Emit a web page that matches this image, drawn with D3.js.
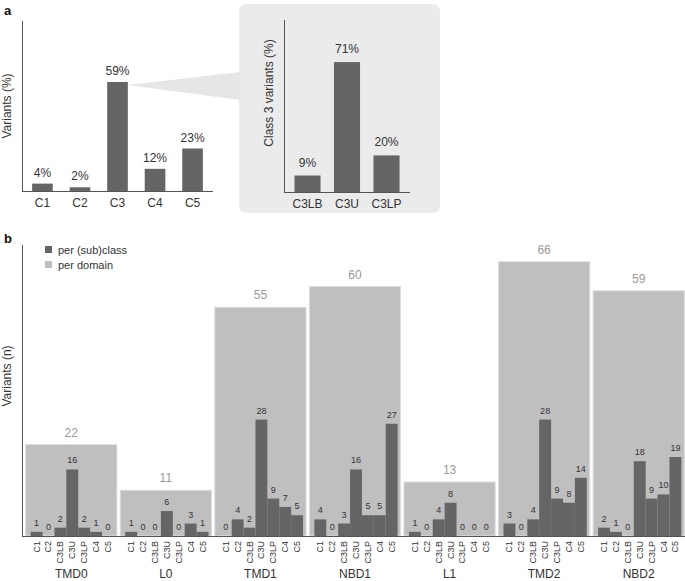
<!DOCTYPE html>
<html><head><meta charset="utf-8">
<script src="https://cdn.jsdelivr.net/npm/d3@7"></script>
<style>body{margin:0;background:#fff}svg{display:block;font-family:"Liberation Sans",Arial,sans-serif}</style>
</head><body>
<svg id="c" width="685" height="581"></svg>
<script>
// Panel a data
const classCats = ["C1","C2","C3","C4","C5"];
const classPct = [4,2,59,12,23];
// Inset data
const sub3Cats = ["C3LB","C3U","C3LP"];
const sub3Pct = [9,71,20];
// Panel b data
const domains = ["TMD0","L0","TMD1","NBD1","L1","TMD2","NBD2"];
const domainTotals = [22,11,55,60,13,66,59];
const subCats = ["C1","C2","C3LB","C3U","C3LP","C4","C5"];
const TMD0 = [1,0,2,16,2,1,0];
const L0 = [1,0,0,6,0,3,1];
const TMD1 = [0,4,2,28,9,7,5];
const NBD1 = [4,0,3,16,5,5,27];
const L1 = [1,0,4,8,0,0,0];
const TMD2 = [3,0,4,28,9,8,14];
const NBD2 = [2,1,0,18,9,10,19];
const subValues = [TMD0,L0,TMD1,NBD1,L1,TMD2,NBD2];
const legendLabels = ["per (sub)class","per domain"];

const DARK="#656565", LIGHT="#bfbfbf", TXT="#333", AX="#555";
const svg = d3.select("#c");

// ---------- Panel a ----------
svg.append("text").attr("x",4).attr("y",15).attr("font-weight","bold").attr("font-size",13).attr("fill","#111").text("a");

const xa = d3.scaleBand().domain(classCats).range([22,213]).paddingInner(0.45).paddingOuter(0.27);
const ya = d3.scaleLinear().domain([0,92]).range([191,21]);

// inset box and wedge
svg.append("rect").attr("x",239).attr("y",4).attr("width",201).attr("height",209).attr("rx",7).attr("fill","#ebebeb");
const c3x = xa("C3")+xa.bandwidth();
svg.append("path").attr("d",`M${c3x},${ya(59)+3} L240,72 L240,100 Z`).attr("fill","#e6e6e6");

const ga = svg.append("g");
ga.selectAll("rect.b").data(classCats).join("rect")
  .attr("x",d=>xa(d)).attr("width",xa.bandwidth())
  .attr("y",(d,i)=>ya(classPct[i])).attr("height",(d,i)=>ya(0)-ya(classPct[i]))
  .attr("fill",DARK);
ga.selectAll("text.v").data(classCats).join("text")
  .attr("x",d=>xa(d)+xa.bandwidth()/2).attr("y",(d,i)=>ya(classPct[i])-7)
  .attr("text-anchor","middle").attr("font-size",12).attr("fill",TXT)
  .text((d,i)=>classPct[i]+"%");
const axA = ga.append("g").attr("transform",`translate(0,${ya(0)})`).call(d3.axisBottom(xa).tickSize(0).tickPadding(7));
axA.select(".domain").attr("stroke",AX).attr("d","M22,0.5H213");
axA.selectAll("text").attr("font-size",12).attr("fill",TXT).attr("font-family","Liberation Sans, Arial, sans-serif");
ga.append("line").attr("x1",22.5).attr("x2",22.5).attr("y1",21).attr("y2",ya(0)).attr("stroke",AX);
ga.append("text").attr("transform","translate(11,106) rotate(-90)").attr("text-anchor","middle").attr("font-size",12).attr("fill",TXT).text("Variants (%)");

// inset chart
const xi = d3.scaleBand().domain(sub3Cats).range([284,410]).paddingInner(0.34).paddingOuter(0.265);
const yi = d3.scaleLinear().domain([0,94]).range([192,20]);
const gi = svg.append("g");
gi.selectAll("rect").data(sub3Cats).join("rect")
  .attr("x",d=>xi(d)).attr("width",xi.bandwidth())
  .attr("y",(d,i)=>yi(sub3Pct[i])).attr("height",(d,i)=>yi(0)-yi(sub3Pct[i]))
  .attr("fill",DARK);
gi.selectAll("text.v").data(sub3Cats).join("text")
  .attr("x",d=>xi(d)+xi.bandwidth()/2).attr("y",(d,i)=>yi(sub3Pct[i])-9)
  .attr("text-anchor","middle").attr("font-size",12).attr("fill",TXT)
  .text((d,i)=>sub3Pct[i]+"%");
const axI = gi.append("g").attr("transform",`translate(0,${yi(0)})`).call(d3.axisBottom(xi).tickSize(0).tickPadding(7));
axI.select(".domain").attr("stroke",AX).attr("d","M284,0.5H410");
axI.selectAll("text").attr("font-size",12).attr("fill",TXT).attr("font-family","Liberation Sans, Arial, sans-serif");
gi.append("line").attr("x1",284.5).attr("x2",284.5).attr("y1",20).attr("y2",yi(0)).attr("stroke",AX);
gi.append("text").attr("transform","translate(273,93) rotate(-90)").attr("text-anchor","middle").attr("font-size",12).attr("fill",TXT).text("Class 3 variants (%)");

// ---------- Panel b ----------
svg.append("text").attr("x",4).attr("y",243).attr("font-weight","bold").attr("font-size",13).attr("fill","#111").text("b");

const xb = d3.scaleBand().domain(domains).range([24,686]).paddingInner(0.035).paddingOuter(0.0175);
const yb = d3.scaleLinear().domain([0,70]).range([536,245]);
const xs = d3.scaleBand().domain(subCats).range([5, xb.bandwidth()-3]).padding(0);

const gb = svg.append("g");
const dg = gb.selectAll("g.d").data(domains).join("g").attr("transform",d=>`translate(${xb(d)},0)`);
dg.append("rect").attr("x",0).attr("width",xb.bandwidth())
  .attr("y",(d,i)=>yb(domainTotals[i])).attr("height",(d,i)=>yb(0)-yb(domainTotals[i]))
  .attr("fill",LIGHT).attr("stroke","#dedede").attr("stroke-width",1);
dg.append("text").attr("x",xb.bandwidth()/2).attr("y",(d,i)=>yb(domainTotals[i])-8)
  .attr("text-anchor","middle").attr("font-size",12).attr("fill","#9a9a9a").text((d,i)=>domainTotals[i]);
dg.each(function(d,i){
  const g = d3.select(this);
  const vals = subValues[i];
  g.selectAll("rect.s").data(subCats).join("rect").attr("class","s")
    .attr("x",c=>xs(c)).attr("width",xs.bandwidth())
    .attr("y",(c,j)=>yb(vals[j])).attr("height",(c,j)=>yb(0)-yb(vals[j]))
    .attr("fill",DARK);
  g.selectAll("text.s").data(subCats).join("text").attr("class","s")
    .attr("x",c=>xs(c)+xs.bandwidth()/2).attr("y",(c,j)=>yb(vals[j])-6)
    .attr("text-anchor","middle").attr("font-size",9).attr("fill",TXT).text((c,j)=>vals[j]);
  g.selectAll("text.t").data(subCats).join("text").attr("class","t")
    .attr("transform",c=>`translate(${xs(c)+xs.bandwidth()/2+3},541) rotate(-90)`)
    .attr("text-anchor","end").attr("font-size",9).attr("fill",TXT).text(c=>c);
  g.append("text").attr("x",xb.bandwidth()/2).attr("y",578).attr("text-anchor","middle")
    .attr("font-size",12).attr("fill",TXT).text(d);
});
gb.append("line").attr("x1",22).attr("x2",685).attr("y1",536.5).attr("y2",536.5).attr("stroke",AX);
gb.append("line").attr("x1",22.5).attr("x2",22.5).attr("y1",245).attr("y2",537).attr("stroke",AX);
gb.append("text").attr("transform","translate(11,376) rotate(-90)").attr("text-anchor","middle").attr("font-size",12).attr("fill",TXT).text("Variants (n)");

// legend
const lg = gb.append("g");
lg.selectAll("rect").data(legendLabels).join("rect")
  .attr("x",45).attr("y",(d,i)=>246+i*15).attr("width",7).attr("height",7)
  .attr("fill",(d,i)=>i===0?DARK:LIGHT);
lg.selectAll("text").data(legendLabels).join("text")
  .attr("x",58).attr("y",(d,i)=>254+i*15).attr("font-size",11).attr("fill",TXT).text(d=>d);
</script>
</body></html>
